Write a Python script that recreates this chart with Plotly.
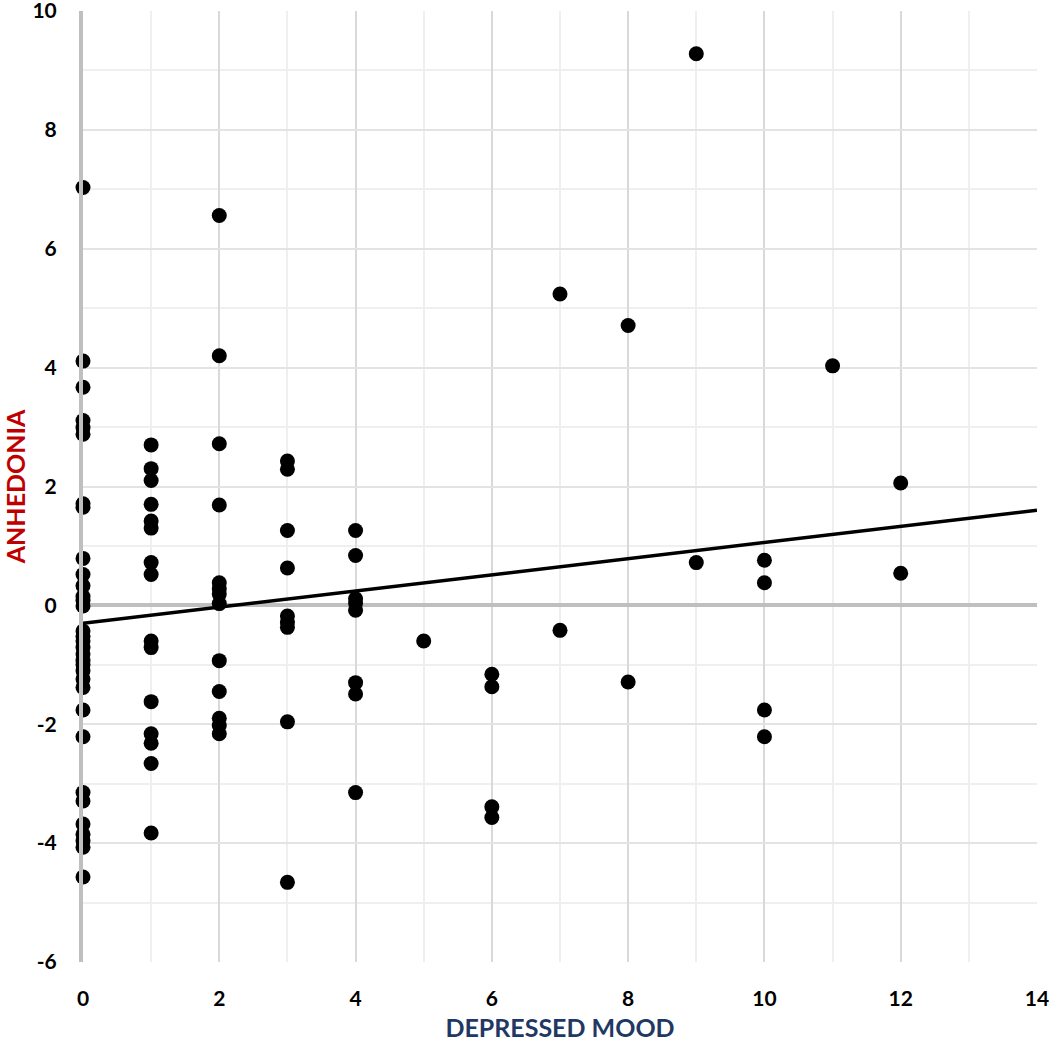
import plotly.graph_objects as go

# Data
x0 = [0]*33
y0 = [7.03, 4.11, 3.67, 3.11, 2.99, 2.88, 1.71, 1.65, 0.79, 0.52, 0.33, 0.15, 0.08, -0.01,
      -0.43, -0.6, -0.71, -0.82, -0.93, -1.1, -1.24, -1.38, -1.76, -2.21,
      -3.15, -3.29, -3.68, -3.85, -3.96, -4.07, -4.57, -0.52, -1.0]
x1 = [1]*15
y1 = [2.70, 2.30, 2.10, 1.70, 1.42, 1.30, 0.72, 0.52, -0.6, -0.71, -1.62, -2.16, -2.32, -2.66, -3.83]
x2 = [2]*13
y2 = [6.56, 4.20, 2.72, 1.69, 0.38, 0.28, 0.19, 0.03, -0.93, -1.45, -1.90, -2.02, -2.16]
x3 = [3]*9
y3 = [2.43, 2.29, 1.26, 0.63, -0.18, -0.29, -0.37, -1.96, -4.66]
x4 = [4]*8
y4 = [1.26, 0.84, 0.11, 0.04, -0.08, -1.30, -1.49, -3.15]
x_rest = [5, 6, 6, 6, 6, 7, 7, 8, 8, 9, 9, 10, 10, 10, 10, 11, 12, 12]
y_rest = [-0.6, -1.16, -1.37, -3.39, -3.57, 5.24, -0.42, 4.71, -1.29, 9.28, 0.72,
          0.76, 0.38, -1.76, -2.21, 4.03, 2.06, 0.54]

depressed_mood = x0 + x1 + x2 + x3 + x4 + x_rest
anhedonia = y0 + y1 + y2 + y3 + y4 + y_rest

trend_x = [0, 14]
trend_y = [-0.30, 1.60]

x_ticks = [0, 2, 4, 6, 8, 10, 12, 14]
x_labels = ["0", "2", "4", "6", "8", "10", "12", "14"]
y_ticks = [-6, -4, -2, 0, 2, 4, 6, 8, 10]
y_labels = ["-6", "-4", "-2", "0", "2", "4", "6", "8", "10"]

fig = go.Figure()
fig.add_trace(go.Scatter(x=depressed_mood, y=anhedonia, mode="markers",
                         marker=dict(color="black", size=15), showlegend=False, cliponaxis=False))
fig.add_trace(go.Scatter(x=trend_x, y=trend_y, mode="lines",
                         line=dict(color="black", width=3.5), showlegend=False, cliponaxis=False))

font_family = "Lato, 'Open Sans', sans-serif"
fig.update_layout(
    width=1050, height=1050,
    margin=dict(l=83, r=13, t=11, b=88, autoexpand=False),
    plot_bgcolor="white", paper_bgcolor="white",
    font=dict(family=font_family, color="black"),
    xaxis=dict(range=[0, 14.0001], tickvals=x_ticks, ticktext=["<b>%s</b>" % t for t in x_labels],
               showgrid=True, gridcolor="#d9d9d9", gridwidth=1.5,
               minor=dict(dtick=1, showgrid=True, gridcolor="#efefef", gridwidth=1.5),
               zeroline=False, showline=False, automargin=False, ticklabeloverflow="allow",
               tickfont=dict(size=21, family=font_family),
               ticks="outside", ticklen=18, tickcolor="rgba(0,0,0,0)",
               title=dict(text="<b>DEPRESSED MOOD</b>", font=dict(size=25, color="#1F3864", family=font_family),
                          standoff=10)),
    yaxis=dict(range=[-6, 10.0001], tickvals=y_ticks, ticktext=["<b>%s</b>" % t for t in y_labels],
               showgrid=True, gridcolor="#e3e3e3", gridwidth=1.5,
               minor=dict(dtick=1, showgrid=True, gridcolor="#efefef", gridwidth=1.5),
               zeroline=True, zerolinecolor="#bfbfbf", zerolinewidth=4,
               showline=True, linecolor="#bfbfbf", linewidth=4, automargin=False,
               ticklabeloverflow="allow",
               tickfont=dict(size=21, family=font_family),
               ticks="outside", ticklen=18, tickcolor="rgba(0,0,0,0)",
               title=dict(text="<b>ANHEDONIA</b>", font=dict(size=25, color="#C00000", family=font_family),
                          standoff=10)),
)
fig.write_html("out.html", config={"displayModeBar": False},
               post_script="document.body.style.margin='0';")
